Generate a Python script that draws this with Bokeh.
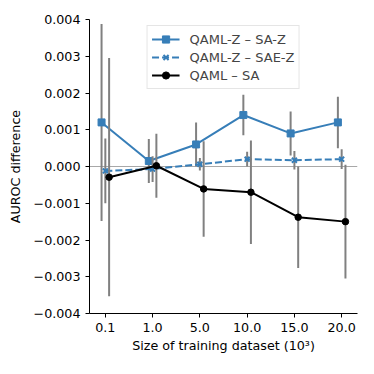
from bokeh.plotting import figure
from bokeh.models import (Range1d, FixedTicker, CustomJSTickFormatter, Span, Legend,
                          LegendItem, CDSView, IndexFilter)
from bokeh.embed import file_html
from bokeh.resources import INLINE

# ---- data ----
sizes = ["0.1", "1.0", "5.0", "10.0", "15.0", "20.0"]
y_ticks = [-0.004, -0.003, -0.002, -0.001, 0.0, 0.001, 0.002, 0.003, 0.004]

saz_mean = [0.0012, 0.00015, 0.0006, 0.0014, 0.0009, 0.0012]
saz_err = [0.00268, 0.0006, 0.0006, 0.00055, 0.0006, 0.0007]

saez_mean = [-0.00012, -0.00007, 0.00006, 0.0002, 0.00017, 0.0002]
saez_err = [0.00088, 0.00035, 0.00017, 0.0002, 0.00025, 0.00027]

sa_mean = [-0.00029, 0.00002, -0.00061, -0.0007, -0.00138, -0.0015]
sa_err = [0.00324, 0.00087, 0.0013, 0.00141, 0.00138, 0.00155]

labels = ["QAML-Z \u2013 SA-Z", "QAML-Z \u2013 SAE-Z", "QAML \u2013 SA"]
offsets = [-0.08, 0.0, 0.08]

BLUE = "#377eb8"
GREY = "#808080"
FONT = "DejaVu Sans"

p = figure(width=366, height=366, output_backend="svg", toolbar_location=None,
           x_range=Range1d(-0.335, 5.335), y_range=Range1d(-0.004, 0.004),
           min_border_left=89, min_border_right=9, min_border_top=19,
           min_border_bottom=53)
p.outline_line_color = None
p.xgrid.visible = False
p.ygrid.visible = False
p.background_fill_color = "white"

zero = Span(location=0, dimension="width", line_color="#a8a8a8", line_width=1,
            level="underlay")
p.add_layout(zero)

series = [
    (saz_mean, saz_err, BLUE, "solid", "square", 7),
    (saez_mean, saez_err, BLUE, "7 3", "x", 7),
    (sa_mean, sa_err, "black", "solid", "circle", 6.5),
]

items = []
for (mean, err, col, dash, mk, ms), lab, off in zip(series, labels, offsets):
    xs = [i + off for i in range(len(sizes))]
    lo = [m - e for m, e in zip(mean, err)]
    hi = [m + e for m, e in zip(mean, err)]
    p.segment(x0=xs, y0=lo, x1=xs, y1=hi, line_color=GREY, line_width=2)
    leg_bar = p.vspan(x=xs, line_color=GREY, line_width=2,
                      view=CDSView(filter=IndexFilter(indices=[])))
    ln = p.line(xs, mean, line_color=col, line_width=2, line_dash=dash)
    sc = p.scatter(xs, mean, marker=mk, size=ms, fill_color=col, line_color=col,
                   line_width=2 if mk == "x" else 1)
    items.append(LegendItem(label=lab, renderers=[leg_bar, ln, sc]))

legend = Legend(items=items, location="top_center", margin=6, padding=4,
                spacing=0, glyph_width=28, glyph_height=18, label_height=18,
                label_standoff=10, label_text_font=FONT,
                label_text_font_size="13px", border_line_color="#cccccc",
                border_line_width=1, background_fill_alpha=0.8)
p.add_layout(legend)

# axes
p.xaxis.ticker = FixedTicker(ticks=list(range(len(sizes))))
p.xaxis.major_label_overrides = {i: s for i, s in enumerate(sizes)}
p.yaxis.ticker = FixedTicker(ticks=y_ticks)
p.yaxis.formatter = CustomJSTickFormatter(
    code="return tick.toFixed(3).replace('-', '\u2212');")

for ax in (p.xaxis[0], p.yaxis[0]):
    ax.axis_line_color = "black"
    ax.axis_line_width = 1
    ax.major_tick_line_color = "black"
    ax.major_tick_in = 0
    ax.major_tick_out = 4
    ax.minor_tick_line_color = None
    ax.major_label_text_font = FONT
    ax.major_label_text_font_size = "12.7px"
    ax.major_label_text_color = "black"
    ax.axis_label_text_font = FONT
    ax.axis_label_text_font_size = "12.7px"
    ax.axis_label_text_font_style = "normal"
    ax.axis_label_text_color = "black"
    ax.major_label_standoff = 5

p.xaxis.axis_label = "Size of training dataset (10\u00b3)"
p.yaxis.axis_label = "AUROC difference"
p.xaxis.axis_label_standoff = 3
p.yaxis.axis_label_standoff = 8

open("out.html", "w").write(file_html(p, INLINE))
